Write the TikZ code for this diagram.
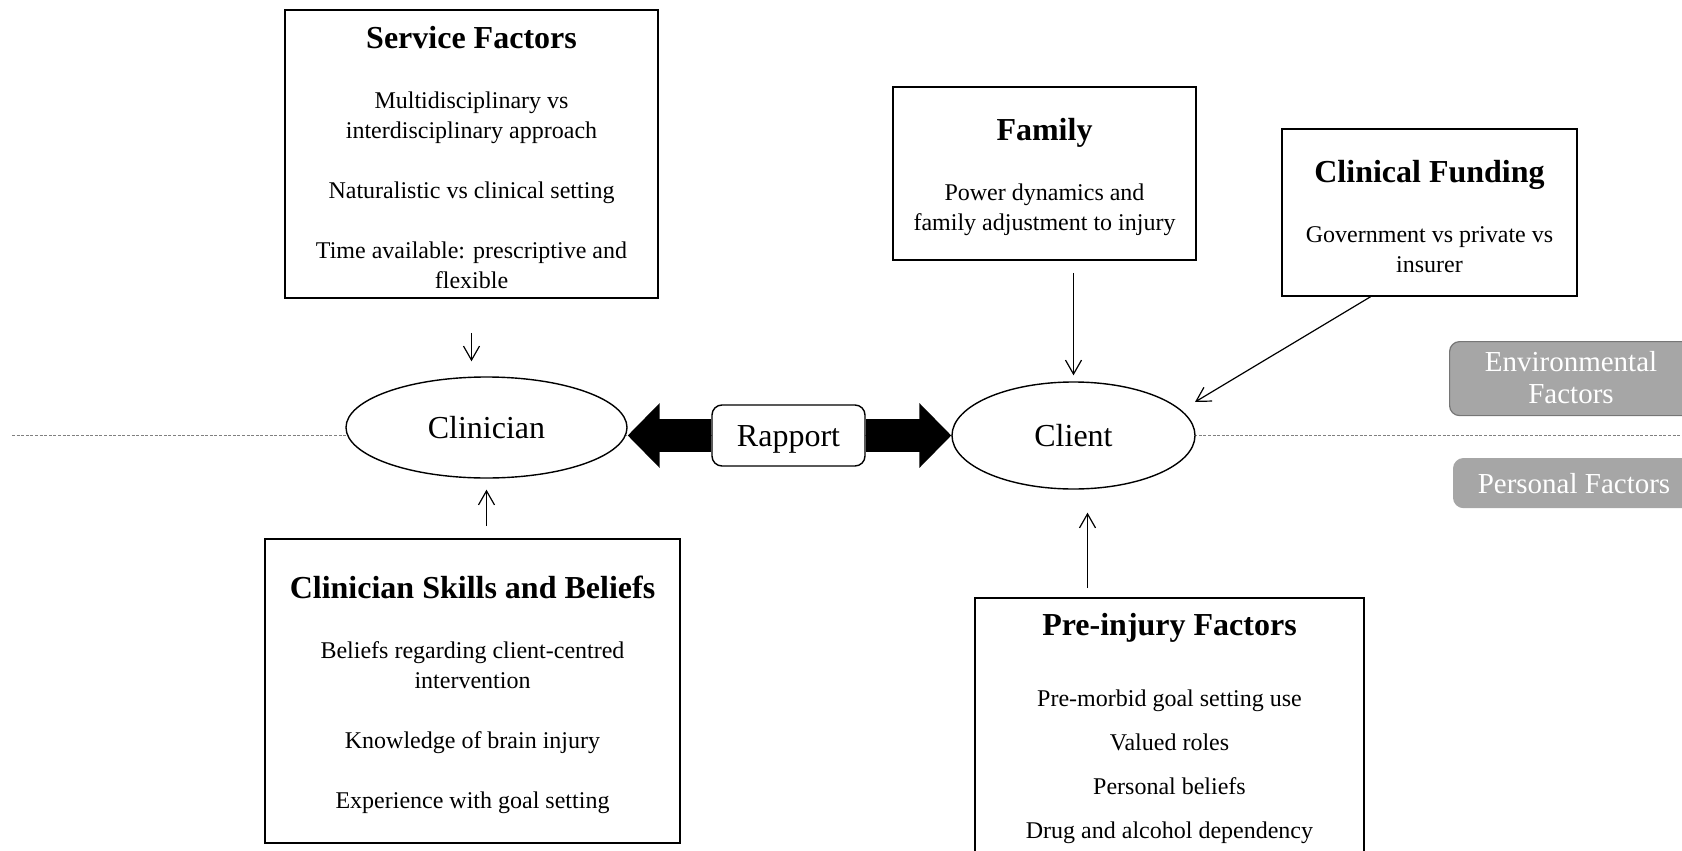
\documentclass[tikz,border=0pt]{standalone}
\usepackage{fontspec}
\setmainfont{Liberation Serif}
\usetikzlibrary{shapes,arrows.meta,backgrounds}
\definecolor{tagfill}{RGB}{166,166,166}
\definecolor{tagline}{RGB}{118,118,118}
\definecolor{splitline}{RGB}{128,128,128}
\newcommand{\factorhead}[1]{{\fontsize{16}{19}\selectfont\bfseries\rule{0pt}{15pt}#1}}
\tikzset{
  factorbox/.style={draw, line width=0.8pt, fill=white, align=center, font=\fontsize{12}{15}\selectfont},
  agent/.style={draw, ellipse, line width=0.7pt, fill=white, text height=11pt, text depth=0pt, font=\fontsize{16}{19}\selectfont},
  feed/.style={line width=0.6pt, -{Straight Barb[length=7pt,width=8pt]}},
  rapportarrow/.style={line width=16.5pt, -{Triangle[length=16pt,width=31.5pt]}},
  tag/.style={fill=tagfill, rounded corners=5pt, line width=0.6pt},
  tagtext/.style={text=white, align=center, font=\fontsize{14.5}{16}\selectfont}
}

\begin{document}
\begin{tikzpicture}[x=0.5pt,y=-0.5pt]
	\useasboundingbox (0,0) rectangle (1682,851);
	\node[factorbox, minimum width=186.5pt, minimum height=144pt] (service) at (471.5,154) {\factorhead{Service Factors}\\[15pt]
		Multidisciplinary vs\\ interdisciplinary approach\\[15pt] Naturalistic vs clinical setting\\[15pt] Time available: prescriptive and\\ flexible};
	\node[factorbox, minimum width=151.5pt, minimum height=86.5pt] (family) at (1044.5,173.5) {\factorhead{Family}\\[15pt]
		Power dynamics and\\ family adjustment to injury};
	\node[factorbox, minimum width=147.5pt, minimum height=83.5pt] (funding) at (1429.5,212.5) {\factorhead{Clinical Funding}\\[15pt]
		Government vs private vs\\ insurer};
	\node[factorbox, minimum width=207.5pt, minimum height=152pt] (skills) at (472.5,691) {\factorhead{Clinician Skills and Beliefs}\\[15pt]
		Beliefs regarding client-centred\\ intervention\\[15pt] Knowledge of brain injury\\[15pt] Experience with goal setting};
	\node[factorbox, minimum width=194.5pt, minimum height=127pt] (preinjury) at (1169.5,725) {\factorhead{Pre-injury Factors}\\[20.5pt]
		Pre-morbid goal setting use\\[7pt] Valued roles\\[7pt] Personal beliefs\\[7pt] Drug and alcohol dependency};

	\node[agent, minimum width=140.5pt, minimum height=50.5pt] (clinician) at (486.5,427.5) {Clinician};
	\node[agent, minimum width=121.5pt, minimum height=53.5pt] (client) at (1073.5,435.5) {Client};
	\node[draw, line width=0.7pt, fill=white, rounded corners=5pt, minimum width=76.5pt, minimum height=30.5pt, text height=11pt, text depth=0pt, font=\fontsize{16}{19}\selectfont] (rapport) at (788.5,435.5) {Rapport};

	\node[tag, draw=tagline, minimum width=140pt, minimum height=37pt, anchor=north west] (envtag) at (1449,341) {};
	\node[tagtext] (envtext) at (1571,378) {Environmental\\Factors};
	\node[tag, draw=tagfill, minimum width=140pt, minimum height=24.5pt, anchor=north west] (perstag) at (1453,458) {};
	\node[tagtext] (perstext) at (1574,483.5) {Personal Factors};

	\coordinate (lineleft) at (12,435);
	\coordinate (lineright) at (1682,435);
	\coordinate (fundtip) at (1195,402);

	\begin{pgfonlayer}{background}
		\draw[splitline, line width=0.5pt, dash pattern=on 1.5pt off 0.8pt] (lineleft) -- (lineright);
		\draw[rapportarrow] (rapport.west) -- (clinician.east |- rapport.west);
		\draw[rapportarrow] (rapport.east) -- (client.west |- rapport.east);
	\end{pgfonlayer}

	\draw[feed, shorten <=17pt, shorten >=7.5pt] (service.south) -- (service.south |- clinician.north);
	\draw[feed, shorten <=6pt, shorten >=5.5pt] (skills.north -| clinician.south) -- (clinician.south);
	\draw[feed, shorten <=6pt, shorten >=3pt] (family.south -| client.north) -- (client.north);
	\draw[feed, shorten <=4.5pt, shorten >=11.5pt] ([xshift=7pt]client.south |- preinjury.north) -- ([xshift=7pt]client.south);
	\draw[feed] (funding.235) -- (fundtip);
\end{tikzpicture}
\end{document}
